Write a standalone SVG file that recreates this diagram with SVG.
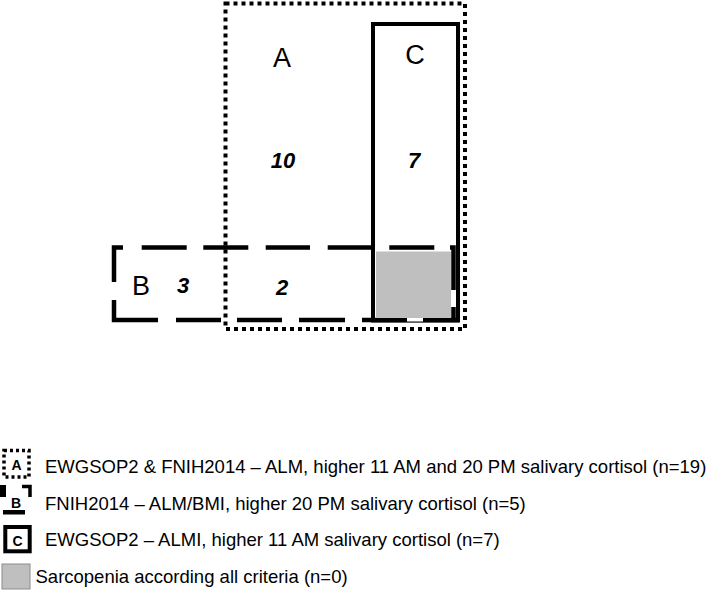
<svg xmlns="http://www.w3.org/2000/svg" width="711" height="591" viewBox="0 0 711 591">
<style>
  .lbl { font-family: "Liberation Sans", Arial, sans-serif; fill: #000; }
  .big { font-size: 27px; text-anchor: middle; }
  .num { font-size: 22px; font-weight: bold; font-style: italic; text-anchor: middle; }
  .leg { font-size: 18.5px; }
  .ico { font-size: 14px; font-weight: bold; text-anchor: middle; }
  .dot { fill: none; stroke: #000; stroke-width: 4; stroke-dasharray: 4 4; }
  .dash { stroke: #000; stroke-width: 4.5; fill: none; }
  .solid { fill: none; stroke: #000; stroke-width: 4; }
  .gray { fill: #BFBFBF; }
</style>
<rect width="711" height="591" fill="#fff"/>

<g id="setA">
  <rect class="dot" x="225.5" y="3.5" width="239.5" height="325.5"/>
  <text class="lbl big" x="282" y="67">A</text>
  <text class="lbl num" x="283" y="168">10</text>
</g>

<g id="setB">
  <path class="dash" d="M114 282 V247.5 H123 M141.7 247.5 H186.7 M203.3 247.5 H248.3 M265.7 247.5 H310 M327.7 247.5 H372 M389.3 247.5 H434.3 M450 247.5 H453.5 V290 M453.5 307 V322 M114 300 V320 H158 M176 320 H221 M237 320 H282 M299 320 H345 M362 320 H459"/>
  <text class="lbl big" x="141" y="295">B</text>
  <text class="lbl num" x="183" y="293">3</text>
  <text class="lbl num" x="282" y="295">2</text>
</g>

<g id="setC">
  <rect class="solid" x="373" y="24" width="85" height="296.5"/>
  <text class="lbl big" x="415" y="64">C</text>
  <text class="lbl num" x="414" y="168">7</text>
</g>

<g id="overlap">
  <rect class="gray" x="376" y="251.5" width="75" height="66"/>
  <rect fill="#fff" x="407" y="318" width="16" height="3.5"/>
  <rect fill="#fff" x="451.5" y="290" width="2.5" height="17"/>
</g>

<g id="legendA">
  <rect x="4" y="450.5" width="25" height="26.5" fill="none" stroke="#000" stroke-width="3.5" stroke-dasharray="3 3"/>
  <text class="lbl ico" x="16.5" y="469.5">A</text>
  <text class="lbl leg" x="45" y="473.3">EWGSOP2 &amp; FNIH2014 – ALM, higher 11 AM and 20 PM salivary cortisol (n=19)</text>
</g>

<g id="legendB">
  <rect x="0" y="485" width="6" height="12" fill="#000"/>
  <path d="M22 486.5 H30 V497" fill="none" stroke="#000" stroke-width="3.5"/>
  <rect x="3" y="510" width="22" height="4.5" fill="#000"/>
  <text class="lbl ico" x="16" y="507.5">B</text>
  <text class="lbl leg" x="45" y="510">FNIH2014 – ALM/BMI, higher 20 PM salivary cortisol (n=5)</text>
</g>

<g id="legendC">
  <rect x="5.3" y="527" width="24.4" height="24.3" fill="none" stroke="#000" stroke-width="4"/>
  <text class="lbl ico" x="17.5" y="545.5">C</text>
  <text class="lbl leg" x="45" y="546">EWGSOP2 – ALMI, higher 11 AM salivary cortisol (n=7)</text>
</g>

<g id="legendGray">
  <rect x="2" y="564" width="28" height="25" fill="#BFBFBF" stroke="#8C8C8C" stroke-width="1"/>
  <text class="lbl leg" x="35.5" y="583.3">Sarcopenia according all criteria (n=0)</text>
</g>
</svg>
